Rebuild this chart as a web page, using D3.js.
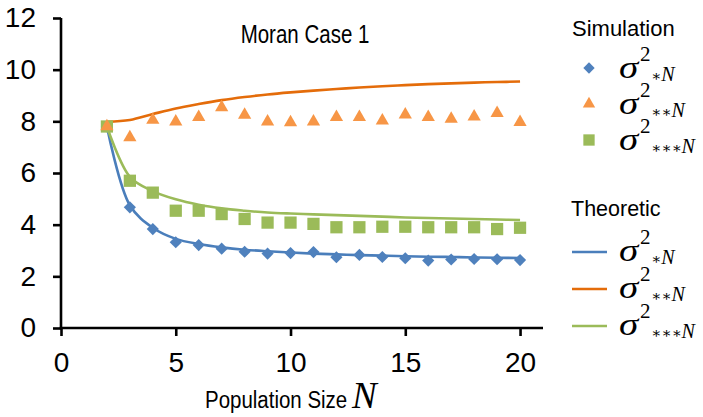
<!DOCTYPE html>
<html>
<head>
<meta charset="utf-8">
<script src="https://cdn.jsdelivr.net/npm/d3@7"></script>
<style>
  html, body { margin: 0; padding: 0; background: #fff; }
  svg { display: block; }
</style>
</head>
<body>
<svg id="chart" width="703" height="417"></svg>
<script>
// Population sizes
const popSizes = [2, 3, 4, 5, 6, 7, 8, 9, 10, 11, 12, 13, 14, 15, 16, 17, 18, 19, 20];

// Simulated variances
const simStar1 = [7.8, 4.67, 3.83, 3.32, 3.21, 3.07, 2.95, 2.88, 2.90, 2.94, 2.74, 2.83, 2.75, 2.70, 2.61, 2.65, 2.67, 2.66, 2.63];
const simStar2 = [7.8, 7.38, 8.05, 7.99, 8.16, 8.54, 8.25, 7.99, 7.96, 7.99, 8.16, 8.16, 8.03, 8.26, 8.16, 8.09, 8.18, 8.32, 7.97];
const simStar3 = [7.8, 5.70, 5.24, 4.54, 4.54, 4.41, 4.22, 4.08, 4.08, 4.03, 3.90, 3.90, 3.92, 3.92, 3.90, 3.90, 3.90, 3.83, 3.88];

// Theoretic variances
const theoStar1 = [7.8, 4.75, 3.88, 3.45, 3.25, 3.12, 3.03, 2.97, 2.92, 2.88, 2.85, 2.82, 2.80, 2.78, 2.76, 2.75, 2.73, 2.72, 2.71];
const theoStar2 = [7.98, 8.05, 8.28, 8.50, 8.67, 8.82, 8.94, 9.04, 9.12, 9.19, 9.25, 9.31, 9.36, 9.40, 9.44, 9.47, 9.50, 9.52, 9.54];
const theoStar3 = [7.8, 5.85, 5.30, 4.98, 4.77, 4.63, 4.54, 4.47, 4.43, 4.40, 4.37, 4.34, 4.31, 4.28, 4.26, 4.24, 4.22, 4.20, 4.18];

// Axis ticks
const xTicks = [0, 5, 10, 15, 20];
const yTicks = [0, 2, 4, 6, 8, 10, 12];

const titleText = "Moran Case 1";
const xLabelText = "Population Size";
const stars = ["\u2217", "\u2217\u2217", "\u2217\u2217\u2217"];

const colors = {
  blueMark: "#4F81BD", orangeMark: "#F79646", greenMark: "#9BBB59",
  blueLine: "#4A7EBB", orangeLine: "#E46C0A", greenLine: "#9BBB59"
};

const svg = d3.select("#chart");
const sans = "'Liberation Sans', Arial, sans-serif";
const serif = "'Liberation Serif', 'Times New Roman', 'DejaVu Serif', serif";

const x = d3.scaleLinear().domain([0, 21]).range([61, 543]);
const y = d3.scaleLinear().domain([0, 12]).range([328, 18]);

// Axes
const xAxis = svg.append("g")
  .attr("transform", `translate(0,${y(0)})`)
  .call(d3.axisBottom(x).tickValues(xTicks).tickSize(8).tickSizeOuter(0).tickPadding(16));
const yAxis = svg.append("g")
  .attr("transform", `translate(${x(0)},0)`)
  .call(d3.axisLeft(y).tickValues(yTicks).tickSize(8).tickSizeOuter(0).tickPadding(17));

[xAxis, yAxis].forEach(g => {
  g.select(".domain").attr("stroke", "#000").attr("stroke-width", 2.6);
  g.selectAll(".tick line").attr("stroke", "#000").attr("stroke-width", 2.6);
  g.selectAll(".tick text").attr("font-family", sans).attr("font-size", 28).attr("fill", "#000");
});
// extend axis lines so the corners meet cleanly
xAxis.select(".domain").attr("d", `M${x(0) - 1.3},0H${x(21)}`);
yAxis.select(".domain").attr("d", `M0,${y(12)}V${y(0) + 1.3}`);

// Theoretic curves
const line = d3.line()
  .x((d, i) => x(popSizes[i]))
  .y(d => y(d))
  .curve(d3.curveCatmullRom.alpha(0.5));

const theo = [
  { v: theoStar1, c: colors.blueLine },
  { v: theoStar2, c: colors.orangeLine },
  { v: theoStar3, c: colors.greenLine }
];
svg.append("g").selectAll("path").data(theo).join("path")
  .attr("d", d => line(d.v))
  .attr("fill", "none")
  .attr("stroke", d => d.c)
  .attr("stroke-width", 2.6)
  .attr("stroke-linejoin", "round");

// Simulation markers
const diamond = d3.symbol(d3.symbolSquare, 74);
const square = d3.symbol(d3.symbolSquare, 150);
const triangle = d3.symbol(d3.symbolTriangle, 76);

function markers(vals, sym, color, rot) {
  svg.append("g").selectAll("path").data(vals).join("path")
    .attr("d", sym)
    .attr("transform", (d, i) => `translate(${x(popSizes[i])},${y(d)})${rot ? " rotate(45)" : ""}`)
    .attr("fill", color);
}
markers(simStar1, diamond, colors.blueMark, true);
markers(simStar3, square, colors.greenMark, false);
markers(simStar2, triangle, colors.orangeMark, false);

// Title
svg.append("text")
  .attr("transform", "translate(305,43) scale(0.82,1)")
  .attr("text-anchor", "middle")
  .attr("font-family", sans).attr("font-size", 25).attr("fill", "#000")
  .text(titleText);

// X axis title
svg.append("text")
  .attr("transform", "translate(205,408) scale(0.89,1)")
  .attr("font-family", sans).attr("font-size", 23).attr("fill", "#000")
  .text(xLabelText);
svg.append("text")
  .attr("x", 352).attr("y", 408)
  .attr("font-family", serif).attr("font-style", "italic").attr("font-size", 37).attr("fill", "#000")
  .text("N");

// Legend: sigma with superscript 2 and a starred-N subscript
function sigmaLabel(yBase, starStr) {
  const g = svg.append("g").attr("fill", "#000");
  g.append("text")
    .attr("transform", `translate(619,${yBase}) scale(1.15,0.95)`)
    .attr("font-family", serif).attr("font-style", "italic").attr("font-size", 34)
    .text("\u03C3");
  g.append("text").attr("x", 640).attr("y", yBase - 17)
    .attr("font-family", serif).attr("font-size", 21)
    .text("2");
  const sub = g.append("text").attr("x", 651).attr("y", yBase + 3)
    .attr("font-family", serif);
  sub.append("tspan").attr("font-family", "'DejaVu Serif', serif").attr("font-size", 15).text(starStr);
  sub.append("tspan").attr("font-style", "italic").attr("font-size", 20).text("N");
}

svg.append("text").attr("x", 572).attr("y", 36)
  .attr("font-family", sans).attr("font-size", 22).attr("fill", "#000").text("Simulation");
svg.append("text").attr("x", 571).attr("y", 216)
  .attr("font-family", sans).attr("font-size", 21.5).attr("fill", "#000").text("Theoretic");

const simBases = [78, 114, 150];
const theoBases = [261, 298, 335];
const legSyms = [
  { s: d3.symbol(d3.symbolSquare, 64), c: colors.blueMark, r: true },
  { s: d3.symbol(d3.symbolTriangle, 66), c: colors.orangeMark, r: false },
  { s: d3.symbol(d3.symbolSquare, 128), c: colors.greenMark, r: false }
];
legSyms.forEach((m, i) => {
  svg.append("path").attr("d", m.s)
    .attr("transform", `translate(589,${simBases[i] - 10})${m.r ? " rotate(45)" : ""}`)
    .attr("fill", m.c);
  sigmaLabel(simBases[i], stars[i]);
});
theo.forEach((d, i) => {
  svg.append("line")
    .attr("x1", 572).attr("x2", 607)
    .attr("y1", theoBases[i] - 9).attr("y2", theoBases[i] - 9)
    .attr("stroke", d.c).attr("stroke-width", 2.6);
  sigmaLabel(theoBases[i], stars[i]);
});
</script>
</body>
</html>
